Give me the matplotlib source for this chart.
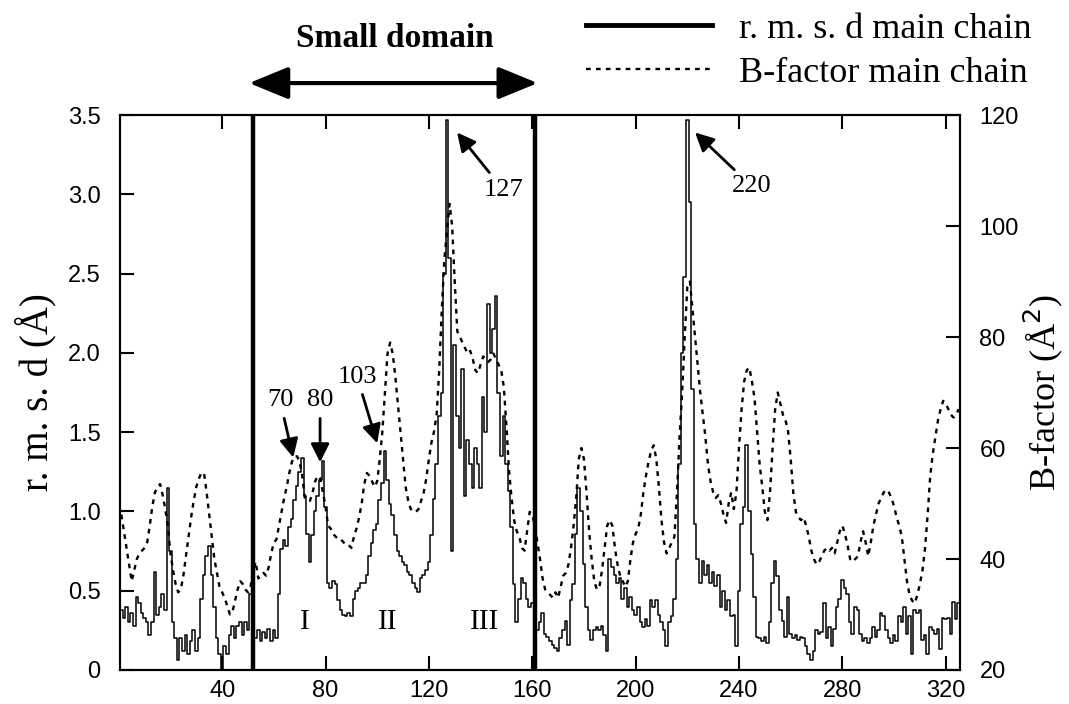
import numpy as np
import matplotlib
matplotlib.use("Agg")
import matplotlib.pyplot as plt
from matplotlib.lines import Line2D
from matplotlib.patches import FancyArrowPatch

# residue numbers and per-residue values
residue = np.arange(1, 326)

rmsd = [
    0.38, 0.33, 0.40, 0.30, 0.36, 0.28, 0.46, 0.42, 0.36, 0.33,
    0.30, 0.22, 0.30, 0.62, 0.35, 0.40, 0.48, 0.38, 1.15, 0.75,
    0.30, 0.20, 0.06, 0.20, 0.12, 0.22, 0.10, 0.18, 0.25, 0.12,
    0.20, 0.45, 0.60, 0.72, 0.78, 0.60, 0.40, 0.20, 0.10, 0.00,
    0.15, 0.10, 0.22, 0.28, 0.20, 0.28, 0.30, 0.22, 0.30, 0.25,
    0.48, 0.30, 0.20, 0.25, 0.18, 0.24, 0.20, 0.26, 0.18, 0.25,
    0.20, 0.48, 0.76, 0.82, 0.78, 0.90, 0.95, 1.07, 1.16, 1.25,
    1.34, 1.10, 0.86, 0.68, 0.85, 1.00, 1.10, 1.20, 1.32, 1.03,
    0.55, 0.52, 0.56, 0.54, 0.44, 0.38, 0.35, 0.34, 0.36, 0.34,
    0.45, 0.50, 0.52, 0.55, 0.55, 0.60, 0.72, 0.80, 0.88, 0.92,
    1.07, 1.18, 1.38, 1.20, 1.05, 0.98, 0.85, 0.75, 0.72, 0.68,
    0.66, 0.62, 0.60, 0.55, 0.52, 0.49, 0.58, 0.60, 0.63, 0.68,
    0.85, 1.08, 1.30, 1.60, 1.75, 2.50, 3.47, 2.60, 0.75, 2.05,
    1.60, 1.40, 1.90, 1.10, 1.45, 1.30, 1.15, 1.40, 1.30, 1.15,
    1.72, 1.50, 2.31, 2.00, 2.15, 2.36, 1.75, 1.35, 1.60, 1.30,
    1.13, 0.90, 0.54, 0.30, 0.45, 0.58, 0.55, 0.45, 0.40, 0.42,
    0.25, 0.25, 0.30, 0.36, 0.23, 0.21, 0.18, 0.16, 0.14, 0.12,
    0.20, 0.25, 0.31, 0.16, 0.44, 0.54, 0.86, 1.15, 1.00, 0.67,
    0.40, 0.25, 0.19, 0.25, 0.27, 0.25, 0.28, 0.22, 0.12, 0.70,
    0.65, 0.60, 0.55, 0.58, 0.45, 0.52, 0.40, 0.46, 0.38, 0.35,
    0.40, 0.30, 0.27, 0.32, 0.28, 0.44, 0.40, 0.44, 0.35, 0.30,
    0.25, 0.15, 0.30, 0.34, 0.45, 0.70, 1.30, 2.00, 2.48, 3.47,
    2.95, 1.77, 0.92, 0.70, 0.55, 0.69, 0.60, 0.66, 0.55, 0.62,
    0.53, 0.60, 0.40, 0.50, 0.38, 0.44, 0.34, 0.35, 0.15, 0.50,
    0.92, 1.03, 1.42, 1.00, 0.73, 0.46, 0.21, 0.20, 0.18, 0.21,
    0.17, 0.30, 0.55, 0.69, 0.59, 0.38, 0.31, 0.21, 0.46, 0.23,
    0.20, 0.22, 0.19, 0.21, 0.20, 0.15, 0.10, 0.06, 0.12, 0.25,
    0.23, 0.24, 0.42, 0.20, 0.27, 0.15, 0.26, 0.40, 0.45, 0.57,
    0.52, 0.48, 0.30, 0.23, 0.40, 0.38, 0.23, 0.18, 0.20, 0.17,
    0.20, 0.27, 0.21, 0.25, 0.36, 0.34, 0.25, 0.20, 0.17, 0.22,
    0.18, 0.34, 0.30, 0.40, 0.23, 0.34, 0.10, 0.38, 0.36, 0.38,
    0.19, 0.22, 0.10, 0.27, 0.25, 0.23, 0.26, 0.13, 0.33, 0.32,
    0.33, 0.23, 0.43, 0.32, 0.42,
]

bfactor = [
    48, 45, 42, 39, 36, 38, 40, 41, 41.5, 42,
    43, 46, 49.5, 52, 53, 53.5, 51.5, 49, 46, 41,
    38, 35.5, 34, 34.5, 37, 40.5, 44, 47.5, 50.5, 53,
    54.5, 55.5, 55.5, 52, 48, 44, 40, 37.5, 35, 34,
    33, 31.5, 30, 30.5, 32.5, 34.5, 36, 35.5, 34.5, 34,
    35, 38, 39.5, 36.5, 37, 37.5, 37, 38.5, 41, 43,
    43.5, 46, 48.5, 51, 53, 55.5, 57.5, 58.5, 58.5, 57.5,
    55, 51, 50.5, 50.5, 52, 54, 55, 54.5, 52, 49.5,
    46, 45.5, 44.5, 44, 43.5, 43.5, 43, 42.5, 42.5, 42,
    44, 45.5, 47.5, 50, 53.5, 55.5, 55, 54, 53, 54,
    58, 63, 70, 77, 79, 77, 73, 68, 63, 58,
    53, 50.5, 49, 48.5, 48.5, 49, 50.5, 52, 54.5, 58,
    61, 63, 66, 74, 85, 94, 99, 104, 100, 90,
    81, 80, 79, 78, 77, 77.5, 76, 74, 73.5, 75,
    76.5, 76, 75.5, 76, 77, 76, 75, 74, 71, 64,
    56, 51, 47, 45, 44, 42, 41.5, 45, 48.5, 48,
    46, 43, 40, 36.5, 34.5, 34, 33.5, 33, 34, 33,
    35, 37, 37.5, 39, 42, 46, 51, 58, 60, 58,
    52, 45, 40, 36, 34.5, 35, 38, 42, 46, 47,
    46, 42, 39, 37, 36, 35, 36, 40, 43, 44.5,
    45.5, 48, 52, 55, 57.5, 59.5, 60.5, 58, 53, 47,
    43, 41, 42, 43, 44, 52, 62, 70, 80, 89,
    90, 85, 80, 75, 70, 66, 62, 57, 54, 52,
    51, 51.5, 50, 48, 46.5, 50, 52, 49, 52, 60,
    67, 72, 74, 74.5, 72, 69, 63, 57, 53, 48.5,
    47, 52, 60, 67, 70, 68, 66, 65, 63, 58,
    52, 48.5, 47.5, 47, 47.5, 46, 44, 41.5, 40, 39,
    39.5, 40.5, 41.5, 42, 41.5, 42, 41, 43, 45, 46,
    44.5, 42.5, 40, 39.5, 40, 40.5, 43, 45, 43, 40.5,
    43, 46, 48, 50, 51, 52, 52.5, 52, 51, 49.5,
    47.5, 46, 44, 40, 36, 33.5, 32.5, 32, 33.5, 35.5,
    38, 42, 48, 55, 59, 62, 65, 67, 68.5, 68,
    67, 66, 65.5, 66, 67,
]

domain_bounds = [52, 161]          # thick vertical lines (small domain)
x_ticks = [40, 80, 120, 160, 200, 240, 280, 320]
rmsd_ticks = [0, 0.5, 1.0, 1.5, 2.0, 2.5, 3.0, 3.5]
rmsd_tick_labels = ["0", "0.5", "1.0", "1.5", "2.0", "2.5", "3.0", "3.5"]
bfac_ticks = [20, 40, 60, 80, 100, 120]

# labelled peaks: (text, text position, arrow tip) in rmsd-axis data coords
peak_labels = [
    ("70", (62.4, 1.70), (67.5, 1.34)),
    ("80", (77.9, 1.70), (77.9, 1.31)),
    ("103", (92.2, 1.85), (100.0, 1.43)),
    ("127", (148.7, 3.03), (130.9, 3.39)),
    ("220", (245.0, 3.05), (223.0, 3.39)),
]
region_labels = [("I", 72.0), ("II", 104.0), ("III", 141.5)]

serif = ["Liberation Serif", "DejaVu Serif"]
sans = ["Liberation Sans", "DejaVu Sans"]
plt.rcParams["font.family"] = sans

fig = plt.figure(figsize=(10.69, 7.04), dpi=100)
ax = fig.add_axes([0.1123, 0.0483, 0.7857, 0.7883])
ax2 = ax.twinx()

ax.plot(residue, rmsd, color="black", lw=1.1, drawstyle="steps-mid")
ax2.plot(residue, bfactor, color="black", lw=1.7, linestyle=(0, (2, 2.2)))
for xb in domain_bounds:
    ax.axvline(xb, color="black", lw=3.2)

ax.set_xlim(0.5, 325.5)
ax.set_ylim(0, 3.5)
ax2.set_ylim(20, 120)

ax.set_xticks(x_ticks)
ax.set_yticks(rmsd_ticks)
ax.set_yticklabels(rmsd_tick_labels)
ax2.set_yticks(bfac_ticks)
ax.tick_params(axis="both", direction="in", length=10, width=1.5,
               labelsize=17, top=True, right=False)
ax.tick_params(axis="y", pad=14)
ax.tick_params(axis="x", pad=7)
ax2.tick_params(axis="y", direction="in", length=10, width=1.5,
                labelsize=17, pad=14)
for a in (ax, ax2):
    for sp in a.spines.values():
        sp.set_linewidth(1.5)

ax.set_ylabel("r. m. s. d (Å)", fontsize=28, family=serif, labelpad=8)
ax2.set_ylabel("B-factor (Å$^2$)", fontsize=26, family=serif, labelpad=2)

arrow_kw = dict(arrowstyle="-|>", lw=2.0, color="black",
                mutation_scale=28, shrinkA=3, shrinkB=0)
for text, xyt, tip in peak_labels:
    ax.annotate(text, xy=tip, xytext=xyt, ha="center", va="center",
                fontsize=19, family=serif, arrowprops=arrow_kw)
for text, xr in region_labels:
    ax.text(xr, 0.30, text, ha="center", va="center", fontsize=21,
            family=serif)

# small domain span above the axes
fig.text(0.3695, 0.946, "Small domain", ha="center", va="center",
         fontsize=24, fontweight="bold", family=serif)
fig.patches.append(FancyArrowPatch(
    (0.2330, 0.882), (0.5030, 0.882), transform=fig.transFigure,
    arrowstyle="<|-|>,head_length=1.1,head_width=0.45", mutation_scale=22,
    lw=3, color="black", shrinkA=0, shrinkB=0))

handles = [Line2D([], [], color="black", lw=3.5),
           Line2D([], [], color="black", lw=1.7, linestyle=(0, (2, 2.2)))]
fig.legend(handles, ["r. m. s. d main chain", "B-factor main chain"],
           loc="upper left", bbox_to_anchor=(0.548, 0.982), frameon=False,
           prop={"family": serif, "size": 26}, handlelength=3.5,
           handletextpad=0.75, labelspacing=0.3, borderpad=0,
           borderaxespad=0)

fig.savefig("out.png", dpi=100)
